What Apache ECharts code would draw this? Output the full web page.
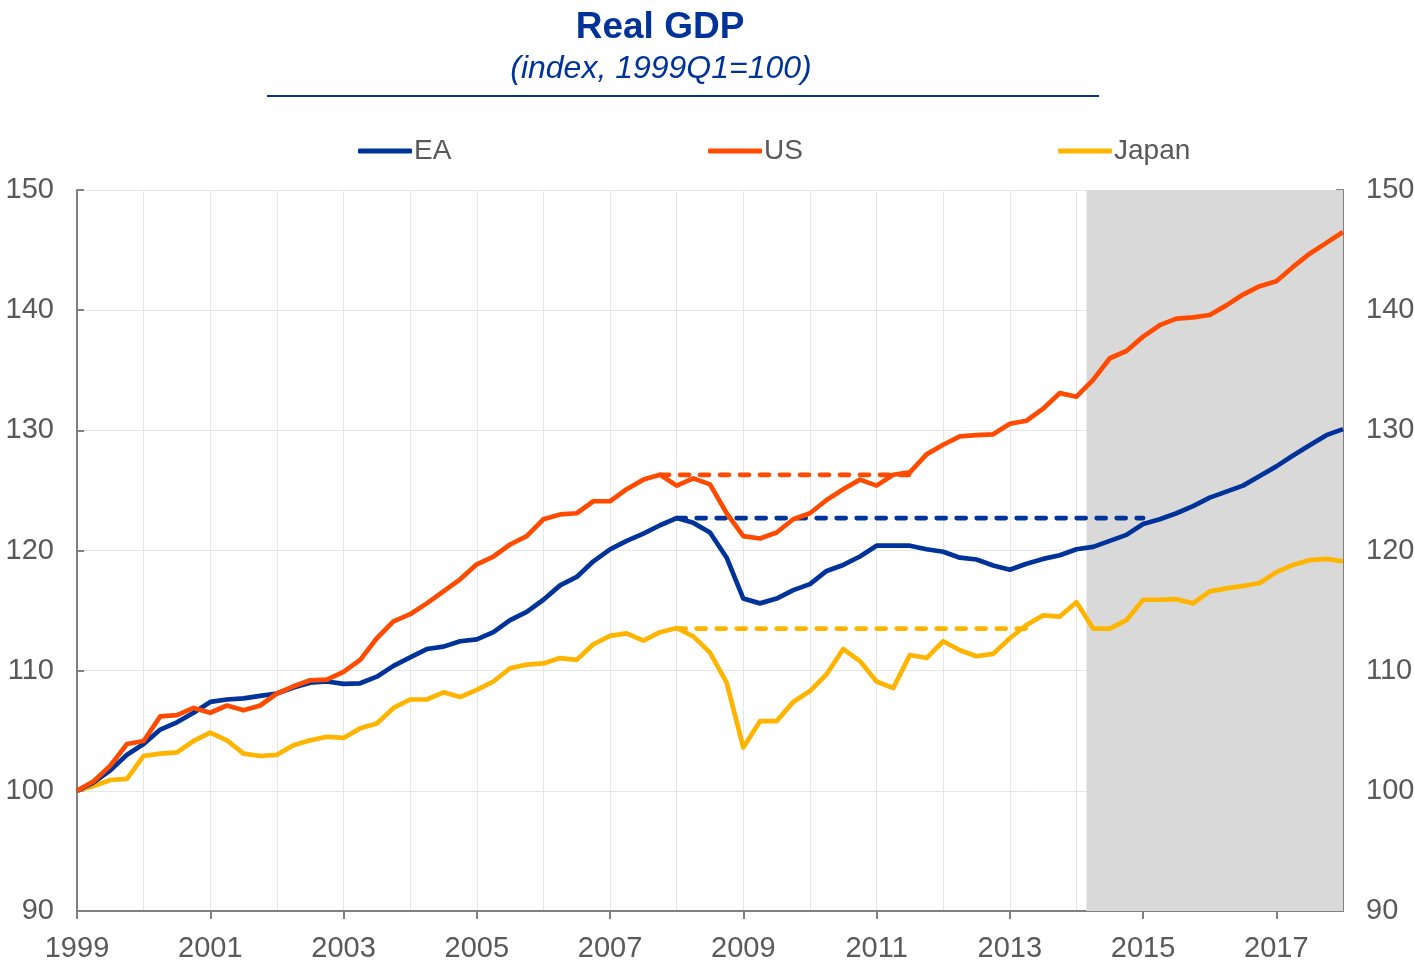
<!DOCTYPE html>
<html>
<head>
<meta charset="utf-8">
<title>Real GDP</title>
<script src="https://cdn.jsdelivr.net/npm/echarts@6/dist/echarts.min.js"></script>
<style>
  html, body { margin: 0; padding: 0; background: #fff; }
  #chart { width: 1414px; height: 966px; }
</style>
</head>
<body>
<div id="chart"></div>
<script>
// quarters 1999Q1 .. 2018Q1
const quarters = [];
for (let y = 1999; y <= 2018; y++) {
  for (let q = 1; q <= 4; q++) {
    if (y === 2018 && q > 1) break;
    quarters.push(y + 'Q' + q);
  }
}

// real GDP, index 1999Q1 = 100
const ea = [
  100, 100.7, 101.7, 103.0, 103.9, 105.1, 105.7, 106.5, 107.4, 107.6,
  107.7, 107.9, 108.1, 108.6, 109.0, 109.1, 108.9, 108.95, 109.5, 110.4,
  111.1, 111.8, 112.0, 112.45, 112.6, 113.2, 114.2, 114.9, 115.9, 117.1,
  117.8, 119.1, 120.1, 120.8, 121.4, 122.1, 122.7, 122.3, 121.5, 119.4,
  116.0, 115.6, 116.0, 116.7, 117.2, 118.3, 118.8, 119.5, 120.4, 120.4,
  120.4, 120.1, 119.9, 119.4, 119.25, 118.75, 118.4, 118.9, 119.3, 119.6,
  120.1, 120.3, 120.8, 121.3, 122.2, 122.6, 123.1, 123.7, 124.4, 124.9,
  125.4, 126.2, 127.0, 127.9, 128.75, 129.6, 130.1
];
const us = [
  100, 100.8, 102.1, 103.9, 104.15, 106.2, 106.3, 106.9, 106.5, 107.1,
  106.7, 107.1, 108.1, 108.7, 109.2, 109.25, 109.9, 110.9, 112.7, 114.1,
  114.7, 115.6, 116.6, 117.6, 118.85, 119.5, 120.5, 121.2, 122.6, 123.0,
  123.1, 124.1, 124.1, 125.1, 125.9, 126.3, 125.4, 126.0, 125.5, 123.1,
  121.2, 121.0, 121.5, 122.6, 123.1, 124.2, 125.1, 125.9, 125.4, 126.3,
  126.5, 128.0, 128.8, 129.5, 129.6, 129.67, 130.55, 130.8, 131.8, 133.1,
  132.8, 134.2, 136.0, 136.6, 137.8, 138.75, 139.3, 139.4, 139.6, 140.4,
  141.3, 142.0, 142.4, 143.6, 144.7, 145.6, 146.5
];
const japan = [
  100, 100.4, 100.9, 101.0, 102.9, 103.1, 103.2, 104.15, 104.85, 104.2,
  103.1, 102.9, 103.0, 103.8, 104.2, 104.5, 104.4, 105.2, 105.6, 106.9,
  107.6, 107.6, 108.2, 107.8, 108.4, 109.1, 110.2, 110.5, 110.6, 111.05,
  110.9, 112.2, 112.9, 113.1, 112.5, 113.2, 113.55, 112.85, 111.5, 109.0,
  103.6, 105.8, 105.8, 107.4, 108.3, 109.7, 111.8, 110.8, 109.1, 108.55,
  111.3, 111.05, 112.45, 111.7, 111.2, 111.4, 112.7, 113.8, 114.6, 114.5,
  115.7, 113.5, 113.5, 114.2, 115.9, 115.9, 115.95, 115.6, 116.6, 116.85,
  117.05, 117.3, 118.2, 118.8, 119.2, 119.3, 119.1
];

// pre-crisis peak levels (dashed)
const eaPeak = { from: '2008Q1', to: '2015Q1', level: 122.7 };
const usPeak = { from: '2007Q4', to: '2011Q3', level: 126.3 };
const japanPeak = { from: '2008Q1', to: '2013Q2', level: 113.5 };

// projection period (grey band)
const shadeFrom = 2014.15;
const shadeTo = 2018;

const colors = { EA: '#003399', US: '#ff4b00', Japan: '#ffb400' };
const font = "'Liberation Sans Narrow', 'Liberation Sans', Arial, sans-serif";
const grey = '#808080';
const gridCol = '#e6e6e6';

function qx(label) {
  const y = parseInt(label.slice(0, 4), 10);
  const q = parseInt(label.slice(5), 10);
  return y + (q - 1) / 4;
}
function pairs(vals) {
  return vals.map((v, i) => [qx(quarters[i]), v]);
}
function flat(p) {
  return [[qx(p.from), p.level], [qx(p.to), p.level]];
}
function solid(name, vals) {
  return {
    name: name, type: 'line', data: pairs(vals), symbol: 'none',
    color: colors[name],
    lineStyle: { width: 4.7, color: colors[name], join: 'round' },
    z: 3
  };
}
function dashed(name, p) {
  return {
    name: name + ' peak', type: 'line', data: flat(p), symbol: 'none',
    color: colors[name],
    lineStyle: { width: 4.7, color: colors[name], type: [9, 11], cap: 'round' },
    z: 2
  };
}
function legendAt(name, left) {
  return {
    data: [name], left: left, top: 132, icon: 'roundRect',
    itemWidth: 54, itemHeight: 5, selectedMode: false,
    textStyle: { fontFamily: font, fontSize: 28, color: '#595959', padding: [0, 0, 0, -3] }
  };
}

const yAxisBase = {
  type: 'value', min: 90, max: 150, interval: 10,
  axisLine: { show: true, lineStyle: { color: grey, width: 2 } },
  axisTick: { show: true, inside: true, length: 7, lineStyle: { color: grey, width: 2 } },
  axisLabel: { fontFamily: font, fontSize: 29, color: '#595959', margin: 23 }
};

const chart = echarts.init(document.getElementById('chart'));
chart.setOption({
  animation: false,
  backgroundColor: '#fff',
  grid: { left: 77, right: 71, top: 190, bottom: 55, outerBoundsMode: 'none' },
  legend: [legendAt('EA', 353), legendAt('US', 703), legendAt('Japan', 1053)],
  graphic: [
    { type: 'text', x: 660, y: 28, style: { text: 'Real GDP', fill: '#003399', font: "bold 37px 'Liberation Sans', Arial, sans-serif", textAlign: 'center', textVerticalAlign: 'middle' } },
    { type: 'text', x: 661, y: 69, style: { text: '(index, 1999Q1=100)', fill: '#003399', font: "italic 32px 'Liberation Sans', Arial, sans-serif", textAlign: 'center', textVerticalAlign: 'middle' } },
    { type: 'line', shape: { x1: 267, y1: 96, x2: 1099, y2: 96 }, style: { stroke: '#003399', lineWidth: 2 } }
  ],
  xAxis: {
    type: 'value', min: 1999, max: 2018, interval: 2, splitNumber: 2,
    axisLine: { onZero: false, lineStyle: { color: grey, width: 2 } },
    axisTick: { show: true, length: 8, lineStyle: { color: grey, width: 2 } },
    axisLabel: {
      fontFamily: font, fontSize: 29, color: '#595959', margin: 23,
      showMaxLabel: false, formatter: v => String(v)
    },
    splitLine: { show: true, lineStyle: { color: gridCol, width: 1 } },
    minorTick: { show: false, splitNumber: 2 },
    minorSplitLine: { show: true, lineStyle: { color: gridCol, width: 1 } }
  },
  yAxis: [
    Object.assign({}, yAxisBase, { position: 'left', splitLine: { show: true, lineStyle: { color: gridCol, width: 1 } } }),
    Object.assign({}, yAxisBase, { position: 'right', splitLine: { show: false } })
  ],
  series: [
    {
      name: 'shade', type: 'line', data: [], silent: true,
      markArea: {
        silent: true,
        itemStyle: { color: '#d9d9d9', opacity: 1 },
        data: [[{ xAxis: shadeFrom }, { xAxis: shadeTo }]]
      },
      z: 1
    },
    dashed('Japan', japanPeak),
    dashed('EA', eaPeak),
    dashed('US', usPeak),
    solid('Japan', japan),
    solid('EA', ea),
    solid('US', us)
  ]
});
</script>
</body>
</html>
